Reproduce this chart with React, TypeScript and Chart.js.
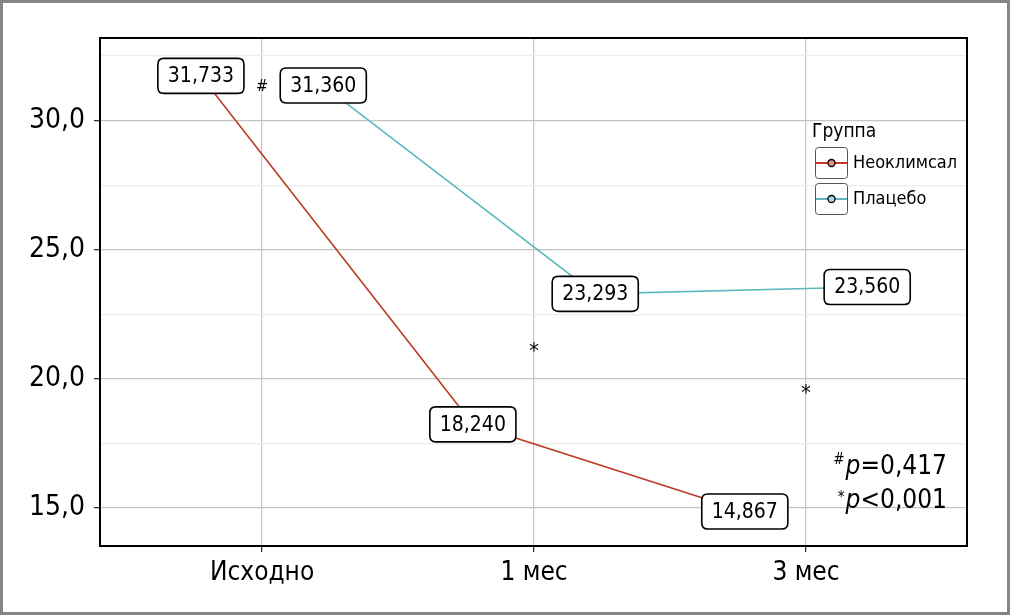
import React, { useEffect, useRef } from "react";
import { Chart, registerables } from "chart.js";
Chart.register(...registerables);

const categories = ["Исходно", "1 мес", "3 мес"];
const seriesNames = ["Неоклимсал", "Плацебо"];
const neoklimsal = [31.733, 18.24, 14.867];
const placebo = [31.36, 23.293, 23.56];
const yMajorTicks = [15, 20, 25, 30];
const markSymbols = ["#", "*", "*"];
const markValues = [31.32, 21.2, 19.57];
const pSymbols = ["#", "*"];
const pRelations = ["=0,417", "<0,001"];
const legendTitle = "Группа";

const FONT = "'Liberation Sans Narrow', 'Arial Narrow', 'DejaVu Sans Condensed', sans-serif";
const RED = "#bf3b26";
const TEAL = "#5db8bf";
const RED_FILL = "#e8897c";
const TEAL_FILL = "#a6dbde";
const DODGE = 0.225;

const fmt = (v: number) => v.toFixed(3).replace(".", ",");

function roundRect(ctx: CanvasRenderingContext2D, x: number, y: number, w: number, h: number, r: number) {
  ctx.beginPath();
  ctx.moveTo(x + r, y);
  ctx.lineTo(x + w - r, y);
  ctx.quadraticCurveTo(x + w, y, x + w, y + r);
  ctx.lineTo(x + w, y + h - r);
  ctx.quadraticCurveTo(x + w, y + h, x + w - r, y + h);
  ctx.lineTo(x + r, y + h);
  ctx.quadraticCurveTo(x, y + h, x, y + h - r);
  ctx.lineTo(x, y + r);
  ctx.quadraticCurveTo(x, y, x + r, y);
  ctx.closePath();
}

const overlay = {
  id: "overlay",
  afterDatasetsDraw(chart: any) {
    const ctx: CanvasRenderingContext2D = chart.ctx;
    const xs = chart.scales.x;
    const ys = chart.scales.y;
    const area = chart.chartArea;
    ctx.save();
    // value labels
    ctx.font = `21px ${FONT}`;
    ctx.textAlign = "center";
    ctx.textBaseline = "middle";
    chart.data.datasets.forEach((ds: any, i: number) => {
      const meta = chart.getDatasetMeta(i);
      meta.data.forEach((el: any, j: number) => {
        const txt = fmt(ds.data[j].y);
        const tw = ctx.measureText(txt).width;
        const w = tw + 20;
        const h = 35;
        roundRect(ctx, el.x - w / 2, el.y - h / 2, w, h, 6);
        ctx.fillStyle = "#ffffff";
        ctx.fill();
        ctx.lineWidth = 1.6;
        ctx.strokeStyle = "#000000";
        ctx.stroke();
        ctx.fillStyle = "#000000";
        ctx.fillText(txt, el.x, el.y + 1);
      });
    });
    // significance marks
    markSymbols.forEach((s, i) => {
      ctx.font = s === "*" ? `22px ${FONT}` : `16px ${FONT}`;
      ctx.fillText(s, xs.getPixelForValue(i), ys.getPixelForValue(markValues[i]) + (s === "*" ? 4 : 0));
    });
    // p-values
    ctx.textAlign = "left";
    ctx.textBaseline = "alphabetic";
    pSymbols.forEach((s, i) => {
      const right = area.right - 20;
      const base = 474 + i * 34;
      ctx.font = `26px ${FONT}`;
      const relW = ctx.measureText(pRelations[i]).width;
      ctx.font = `italic 26px ${FONT}`;
      const pW = ctx.measureText("p").width;
      ctx.font = `15px ${FONT}`;
      const sW = ctx.measureText(s).width;
      let x = right - relW - pW - sW - 1;
      ctx.fillText(s, x, base - (s === "#" ? 10 : 6));
      x += sW + 1;
      ctx.font = `italic 26px ${FONT}`;
      ctx.fillText("p", x, base);
      x += pW;
      ctx.font = `26px ${FONT}`;
      ctx.fillText(pRelations[i], x, base);
    });
    // legend
    ctx.font = `19px ${FONT}`;
    ctx.textBaseline = "middle";
    ctx.fillText(legendTitle, 812, 132);
    const colors = [RED, TEAL];
    const fills = [RED_FILL, TEAL_FILL];
    ctx.font = `18px ${FONT}`;
    seriesNames.forEach((n, i) => {
      const top = 147 + i * 36;
      roundRect(ctx, 815.5, top + 0.5, 32, 31, 3);
      ctx.fillStyle = "#ffffff";
      ctx.fill();
      ctx.strokeStyle = "#555555";
      ctx.lineWidth = 1;
      ctx.stroke();
      const cy = top + 16;
      ctx.beginPath();
      ctx.moveTo(816, cy);
      ctx.lineTo(847, cy);
      ctx.strokeStyle = colors[i];
      ctx.lineWidth = 2;
      ctx.stroke();
      ctx.beginPath();
      ctx.arc(831.5, cy, 3.5, 0, Math.PI * 2);
      ctx.fillStyle = fills[i];
      ctx.fill();
      ctx.strokeStyle = "#000000";
      ctx.lineWidth = 1.3;
      ctx.stroke();
      ctx.fillStyle = "#000000";
      ctx.fillText(n, 853, cy);
    });
    ctx.restore();
  },
  afterDraw(chart: any) {
    const ctx: CanvasRenderingContext2D = chart.ctx;
    const a = chart.chartArea;
    ctx.save();
    ctx.strokeStyle = "#000000";
    ctx.lineWidth = 2;
    ctx.strokeRect(a.left, a.top, a.right - a.left, a.bottom - a.top);
    ctx.strokeStyle = "#858585";
    ctx.lineWidth = 3;
    ctx.strokeRect(1.5, 1.5, chart.width - 3, chart.height - 3);
    ctx.restore();
  },
};

export default function App() {
  const ref = useRef<HTMLCanvasElement>(null);
  useEffect(() => {
    document.body.style.margin = "0";
    const chart = new Chart(ref.current!, {
      type: "line",
      data: {
        datasets: [
          {
            label: seriesNames[0],
            data: neoklimsal.map((v, i) => ({ x: i - DODGE, y: v })),
            borderColor: RED,
            borderWidth: 1.6,
            pointRadius: 0,
            fill: false,
          },
          {
            label: seriesNames[1],
            data: placebo.map((v, i) => ({ x: i + DODGE, y: v })),
            borderColor: TEAL,
            borderWidth: 1.6,
            pointRadius: 0,
            fill: false,
          },
        ],
      },
      options: {
        animation: false,
        responsive: false,
        layout: { padding: { left: 0, top: 38, right: 43, bottom: 0 } },
        plugins: { legend: { display: false }, tooltip: { enabled: false } },
        scales: {
          x: {
            type: "linear",
            min: -0.596,
            max: 2.592,
            afterBuildTicks: (s: any) => {
              s.ticks = categories.map((_, i) => ({ value: i }));
            },
            afterFit: (s: any) => {
              s.height = 615 - 546;
            },
            ticks: {
              font: { family: FONT, size: 26 },
              color: "#000000",
              padding: 6,
              callback: (v: any) => categories[v] ?? "",
              maxRotation: 0,
              autoSkip: false,
            },
            grid: { color: "#c9c9c9", lineWidth: 1.3, tickLength: 6, tickColor: "#333333", tickWidth: 1.3 },
            border: { display: false },
          },
          y: {
            type: "linear",
            min: 13.53,
            max: 33.2,
            afterFit: (s: any) => {
              s.width = 100;
            },
            afterBuildTicks: (s: any) => {
              const t: any[] = [];
              yMajorTicks.forEach((v) => {
                t.push({ value: v });
                t.push({ value: v + 2.5 });
              });
              s.ticks = t;
            },
            ticks: {
              font: { family: FONT, size: 28 },
              color: "#000000",
              padding: 9,
              callback: (v: any) => (yMajorTicks.includes(v) ? v.toFixed(1).replace(".", ",") : ""),
            },
            grid: {
              color: (c: any) => (yMajorTicks.includes(c.tick?.value) ? "#c4c4c4" : "#ececec"),
              lineWidth: 1.3,
              tickLength: 6,
              tickColor: (c: any) => (yMajorTicks.includes(c.tick?.value) ? "#333333" : "rgba(0,0,0,0)"),
              tickWidth: 1.3,
            },
            border: { display: false },
          },
        },
      },
      plugins: [overlay],
    } as any);
    return () => chart.destroy();
  }, []);
  return <canvas ref={ref} width={1010} height={615} style={{ display: "block" }} />;
}
